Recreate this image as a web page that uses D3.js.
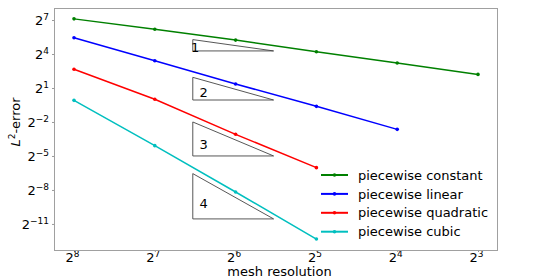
<!DOCTYPE html>
<html>
<head>
<meta charset="utf-8">
<script src="https://cdn.jsdelivr.net/npm/d3@7"></script>
<style>
  body { margin: 0; background: #fff; }
  svg text { font-family: "DejaVu Sans", sans-serif; fill: #000; }
</style>
</head>
<body>
<div id="chart"></div>
<script>
// mesh sizes (x axis, drawn reversed)
var meshes = [256, 128, 64, 32, 16, 8];

// L2 errors per method
var constantErr = [137.2, 72.5, 37.5, 18.4, 9.19, 4.59];
var linearErr = [43.4, 10.63, 2.55, 0.651, 0.159];
var quadraticErr = [6.28, 1.0, 0.1175, 0.0153];
var cubicErr = [0.9395, 0.0587, 0.00345, 0.000194];

var seriesNames = ["piecewise constant", "piecewise linear", "piecewise quadratic", "piecewise cubic"];
var seriesColors = ["#008000", "#0000ff", "#ff0000", "#00bfbf"];

// tick exponents (base 2)
var xTickExp = [8, 7, 6, 5, 4, 3];
var yTickExp = [7, 4, 1, -2, -5, -8, -11];

// slope triangles: rise order, left/right x, bottom error, label x
var triSlopes = [1, 2, 3, 4];
var triLeft = [92.4, 92.4, 92.4, 92.4];
var triRight = [46.2, 46.2, 46.2, 46.2];
var triBottom = [19.3, 0.959, 0.03125, 0.000664];
var triLabelX = [93.8, 87.3, 87.3, 87.3];

var allSeries = [constantErr, linearErr, quadraticErr, cubicErr];

var svgWidth = 538, svgHeight = 279;
var margin = { top: 8, right: 41, bottom: 29, left: 54 };
var chartWidth = svgWidth - margin.left - margin.right;
var chartHeight = svgHeight - margin.top - margin.bottom;

var svg = d3.select("#chart").append("svg")
    .attr("width", svgWidth)
    .attr("height", svgHeight);

var chartGroup = svg.append("g")
    .attr("transform", `translate(${margin.left}, ${margin.top})`);

// log2 scales, x reversed
var xScale = d3.scaleLog().base(2)
    .domain([Math.pow(2, 8.2475), Math.pow(2, 2.765)])
    .range([0, chartWidth]);

var yScale = d3.scaleLog().base(2)
    .domain([Math.pow(2, -13.3), Math.pow(2, 8.06)])
    .range([chartHeight, 0]);

// axes with small ticks, labels rebuilt with superscripts
var xAxis = d3.axisBottom(xScale)
    .tickValues(xTickExp.map(e => Math.pow(2, e)))
    .tickSize(2)
    .tickFormat("");
var yAxis = d3.axisLeft(yScale)
    .tickValues(yTickExp.map(e => Math.pow(2, e)))
    .tickSize(2)
    .tickFormat("");

var gx = chartGroup.append("g")
    .attr("transform", `translate(0, ${chartHeight})`)
    .call(xAxis);
var gy = chartGroup.append("g").call(yAxis);

[gx, gy].forEach(g => {
    g.select(".domain").remove();
    g.selectAll(".tick line").attr("stroke", "#999");
});

gx.selectAll(".tick").each(function(d, i) {
    var t = d3.select(this).append("text")
        .attr("x", -2)
        .attr("y", 12)
        .attr("text-anchor", "middle")
        .attr("font-size", 13);
    t.append("tspan").text("2");
    t.append("tspan").attr("font-size", 9).attr("dy", -5).text(xTickExp[i]);
});

gy.selectAll(".tick").each(function(d, i) {
    var e = yTickExp[i];
    var t = d3.select(this).append("text")
        .attr("x", -5)
        .attr("y", 4.5)
        .attr("text-anchor", "end")
        .attr("font-size", 13);
    t.append("tspan").text("2");
    t.append("tspan").attr("font-size", 9).attr("dy", -5)
        .text(e < 0 ? "\u2212" + (-e) : e);
});

// frame
chartGroup.append("rect")
    .attr("x", 0.5)
    .attr("y", 0.5)
    .attr("width", chartWidth)
    .attr("height", chartHeight)
    .attr("fill", "none")
    .attr("stroke", "#a0a0a0")
    .attr("stroke-width", 1);

// slope triangles
triSlopes.forEach((s, i) => {
    var top = triBottom[i] * Math.pow(2, s);
    var pts = [[triLeft[i], top], [triLeft[i], triBottom[i]], [triRight[i], triBottom[i]]];
    chartGroup.append("path")
        .attr("d", d3.line().x(p => xScale(p[0])).y(p => yScale(p[1]))(pts) + "Z")
        .attr("fill", "none")
        .attr("stroke", "#444")
        .attr("stroke-width", 0.9);
    chartGroup.append("text")
        .attr("x", xScale(triLabelX[i]))
        .attr("y", yScale(triBottom[i] * Math.pow(2, 0.35 * s)))
        .attr("dy", "0.36em")
        .attr("font-size", 13)
        .text(s);
});

// error lines with dot markers
var line = d3.line()
    .x((d, i) => xScale(meshes[i]))
    .y(d => yScale(d));

allSeries.forEach((vals, k) => {
    chartGroup.append("path")
        .datum(vals)
        .attr("d", line)
        .attr("fill", "none")
        .attr("stroke", seriesColors[k])
        .attr("stroke-width", 1.5);
    chartGroup.append("g")
        .selectAll("circle")
        .data(vals)
        .enter()
        .append("circle")
        .attr("cx", (d, i) => xScale(meshes[i]))
        .attr("cy", d => yScale(d))
        .attr("r", 1.8)
        .attr("fill", seriesColors[k]);
});

// legend
var legend = svg.append("g")
    .attr("transform", "translate(321, 175)");
seriesNames.forEach((name, k) => {
    var row = legend.append("g").attr("transform", `translate(0, ${k * 18.9})`);
    row.append("line")
        .attr("x1", 0).attr("x2", 27)
        .attr("stroke", seriesColors[k])
        .attr("stroke-width", 2);
    row.append("circle")
        .attr("cx", 13.5).attr("r", 1.8)
        .attr("fill", seriesColors[k]);
    row.append("text")
        .attr("x", 37)
        .attr("dy", "0.36em")
        .attr("font-size", 13)
        .text(name);
});

// axis labels
svg.append("text")
    .attr("x", margin.left + chartWidth / 2 + 4)
    .attr("y", 276)
    .attr("text-anchor", "middle")
    .attr("font-size", 13)
    .text("mesh resolution");

var ylab = svg.append("text")
    .attr("transform", "translate(20, 122) rotate(-90)")
    .attr("text-anchor", "middle")
    .attr("font-size", 13);
ylab.append("tspan").attr("font-style", "italic").text("L");
ylab.append("tspan").attr("font-size", 9).attr("dy", -5).text("2");
ylab.append("tspan").attr("dy", 5).text("-error");
</script>
</body>
</html>
